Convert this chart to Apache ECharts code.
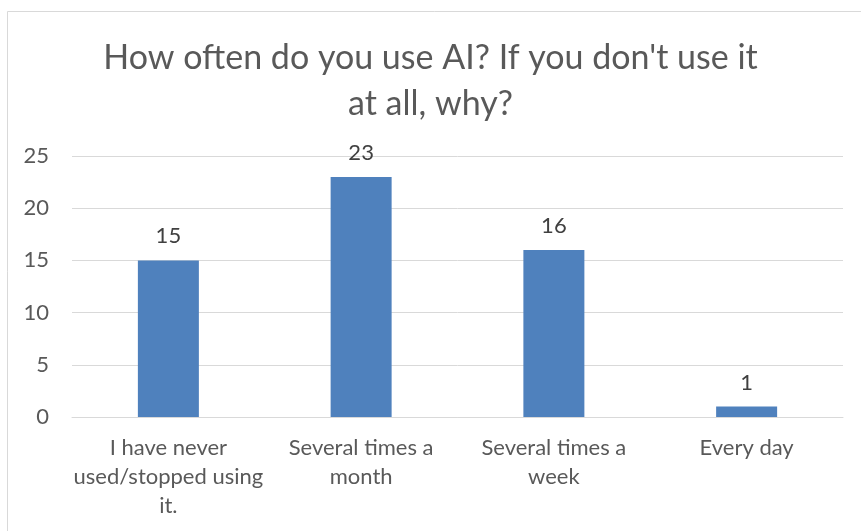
<!DOCTYPE html>
<html><head><meta charset="utf-8">
<script src="https://cdn.jsdelivr.net/npm/echarts@6/dist/echarts.min.js"></script>
<style>html,body{margin:0;padding:0;background:#fff}#c{width:861px;height:531px}</style>
</head><body><div id="c"></div>
<script>
const titleText = "How often do you use AI? If you don't use it\nat all, why?";
const categories = ["I have never used/stopped using it.", "Several times a month", "Several times a week", "Every day"];
const categoryLabels = ["I have never\nused/stopped using\nit.", "Several times a\nmonth", "Several times a\nweek", "Every day"];
const values = [15, 23, 16, 1];
const yTicks = [0, 5, 10, 15, 20, 25];

const FONT = 'Lato';
const chart = echarts.init(document.getElementById('c'), null, {renderer: 'canvas'});
chart.setOption({
  backgroundColor: '#fff',
  animation: false,
  graphic: [{type: 'rect', shape: {x: 7.5, y: 11.5, width: 900, height: 600}, style: {fill: 'none', stroke: '#D9D9D9', lineWidth: 1}}],
  title: {
    text: titleText, left: 'center', top: 30,
    textStyle: {fontFamily: FONT, fontSize: 34, fontWeight: 'normal', color: '#595959', lineHeight: 46}
  },
  grid: {left: 72, right: 18, top: 156, bottom: 114, containLabel: false},
  xAxis: {
    type: 'category', data: categories,
    axisLine: {lineStyle: {color: '#D9D9D9', width: 1}},
    axisTick: {show: false},
    axisLabel: {
      interval: 0, margin: 16, color: '#595959', fontFamily: FONT, fontSize: 22, lineHeight: 29,
      align: 'center',
      formatter: (v, i) => categoryLabels[categories.indexOf(v)]
    }
  },
  yAxis: {
    type: 'value', min: yTicks[0], max: yTicks[yTicks.length - 1], interval: 5,
    axisLine: {show: false}, axisTick: {show: false},
    splitLine: {lineStyle: {color: '#D9D9D9', width: 1}},
    axisLabel: {margin: 23, color: '#595959', fontFamily: FONT, fontSize: 22}
  },
  series: [{
    type: 'bar', data: values, barWidth: 61,
    itemStyle: {color: '#4F81BD'},
    label: {show: true, position: 'top', distance: 13, color: '#404040', fontFamily: FONT, fontSize: 22}
  }]
});
</script></body></html>
